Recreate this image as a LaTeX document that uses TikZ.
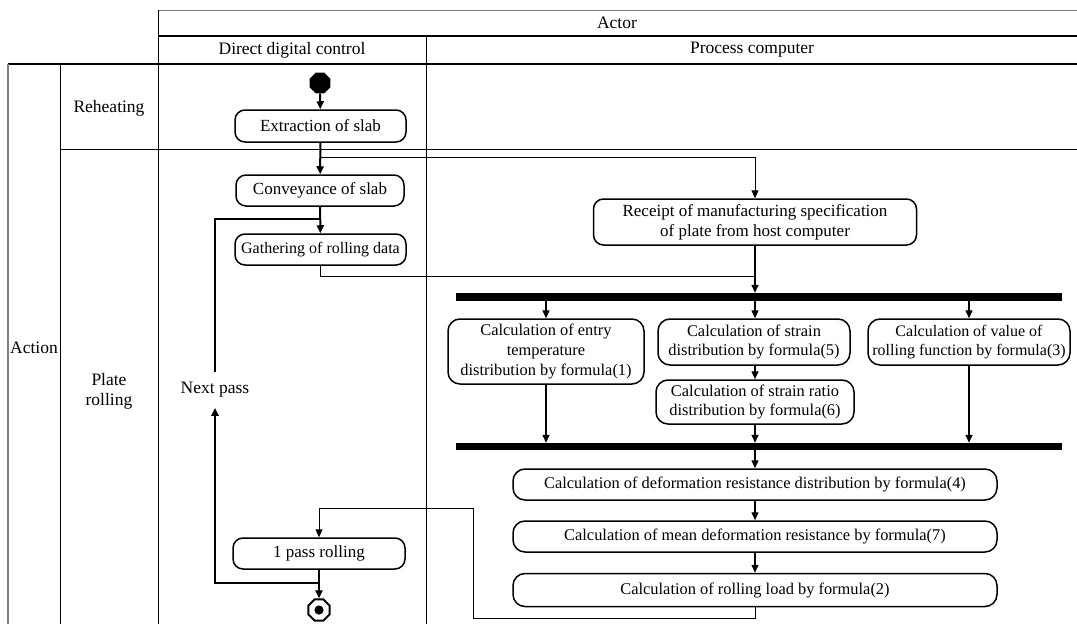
\documentclass[tikz,border=0pt]{standalone}
\usepackage{fontspec}
\setmainfont{Liberation Serif}
\usetikzlibrary{arrows.meta,shapes.geometric,calc}
\newcommand\fntH{\fontsize{17.5}{20}\selectfont}
\newcommand\fntL{\fontsize{17}{20}\selectfont}
\newcommand\fntR{\fontsize{16.4}{19.8}\selectfont}
\begin{document}
\begin{tikzpicture}[x=1pt,y=-1pt,
  tline/.style={line width=1pt},
  hline/.style={line width=1.6pt},
  lbl/.style={font=\fntH, inner sep=0pt},
  act/.style={draw, line width=1.5pt, rounded corners=10pt, minimum height=31pt, inner sep=0pt, align=center, font=\fntL},
  calcbox/.style={act, rounded corners=12pt, font=\fntR},
  forkbar/.style={fill=black, minimum width=606pt, minimum height=8pt, inner sep=0pt},
  tip/.style={-{Triangle[length=8pt,width=7pt]}},
  thk/.style={line width=2pt},
  mid/.style={line width=1.4pt},
  thn/.style={line width=1pt},
  octa/.style={regular polygon, regular polygon sides=8, minimum size=23pt, inner sep=0pt}
]
\useasboundingbox (0,0) rectangle (1077,624);
% table
\draw[tline, gray] (158,10) -- (1077,10);
\draw[hline] (158,36) -- (1077,36);
\draw[hline] (8,64) -- (1077,64);
\draw[tline] (60,149) -- (1077,149);
\draw[line width=1.2pt, gray] (8,64) -- (8,624);
\draw[tline] (60,64) -- (60,624);
\draw[tline] (158,10) -- (158,624);
\draw[tline] (426,36) -- (426,624);
\node[lbl] (hactor) at (617,23) {Actor};
\node[lbl] (hddc) at (292,50) {Direct digital control};
\node[lbl] (hpc) at (752,50) {Process computer};
\node[lbl] (haction) at (34,348) {Action};
\node[lbl] (hreheat) at (109,108) {Reheating};
\node[lbl, align=center] (hplate) at (109,391) {Plate\\rolling};
% DDC lane
\node[octa, fill=black, minimum size=22.5pt] (start) at (320,83) {};
\node[act, minimum width=171pt, minimum height=32pt] (extract) at (320.5,126) {Extraction of slab};
\node[act, minimum width=168pt] (convey) at (320,190.5) {Conveyance of slab};
\node[act, minimum width=171pt, font=\fontsize{16}{19}\selectfont] (gather) at (320.5,249.5) {Gathering of rolling data};
\node[act, minimum width=172pt] (pass) at (319,553.5) {1 pass rolling};
\node[octa, draw, line width=2pt, fill=white] (end) at (319,610) {};
\fill (end.center) circle (4.6pt);
\node[lbl, inner ysep=10pt] (nextp) at (215,390) {Next pass};
% process computer lane
\node[act, minimum width=323pt, minimum height=46pt] (receipt) at (755,222) {Receipt of manufacturing specification\\of plate from host computer};
\node[forkbar] (fork1) at (759,297) {};
\node[calcbox, minimum width=196pt, minimum height=65pt] (entry) at (546,351.5) {Calculation of entry\\temperature\\distribution by formula(1)};
\node[calcbox, minimum width=192pt, minimum height=46pt] (strain) at (754,342) {Calculation of strain\\distribution by formula(5)};
\node[calcbox, minimum width=202pt, minimum height=46pt, font=\fontsize{16}{19.8}\selectfont] (value) at (969,342) {Calculation of value of\\rolling function by formula(3)};
\node[calcbox, minimum width=198pt, minimum height=44pt] (ratio) at (755,402) {Calculation of strain ratio\\distribution by formula(6)};
\node[forkbar, minimum height=7pt] (fork2) at (759,446.5) {};
\node[calcbox, minimum width=484pt] (deform) at (755,484.5) {Calculation of deformation resistance distribution by formula(4)};
\node[calcbox, minimum width=484pt] (mean) at (755,536.5) {Calculation of mean deformation resistance by formula(7)};
\node[calcbox, minimum width=484pt, minimum height=33pt] (rolling) at (755,590) {Calculation of rolling load by formula(2)};
\coordinate (rr) at (473,618);
\coordinate (rp) at (473,508);
% connectors
\draw[thk, tip] (start) -- (extract);
\draw[thk, tip] (extract) -- (convey);
\draw[thn, tip] (extract.south) ++(0,15) -| (receipt.north);
\draw[thk, tip] (convey) -- (gather);
\draw[thn] (gather.south) -- ++(0,11) -| (receipt.south);
\draw[mid, tip] (receipt.south) -- (receipt.south |- fork1.north);
\draw[mid, tip] (entry.north |- fork1.south) -- (entry.north);
\draw[mid, tip] (receipt.south |- fork1.south) -- (receipt.south |- strain.north);
\draw[mid, tip] (value.north |- fork1.south) -- (value.north);
\draw[mid, tip] (strain.south -| ratio.north) -- (ratio.north);
\draw[mid, tip] (entry.south) -- (entry.south |- fork2.north);
\draw[mid, tip] (ratio.south) -- (ratio.south |- fork2.north);
\draw[mid, tip] (value.south) -- (value.south |- fork2.north);
\draw[mid, tip] (deform.north |- fork2.south) -- (deform.north);
\draw[mid, tip] (deform) -- (mean);
\draw[mid, tip] (mean) -- (rolling);
\draw[thn, tip] (rolling.south) |- (rr) -- (rp) -| (pass.north);
\draw[thk, tip] (pass) -- (end);
\draw[thk, tip] (pass.south) ++(0,13) -| (nextp.south);
\draw[thk] (nextp.north) |- (gather.north |- 0,219);
\end{tikzpicture}
\end{document}
